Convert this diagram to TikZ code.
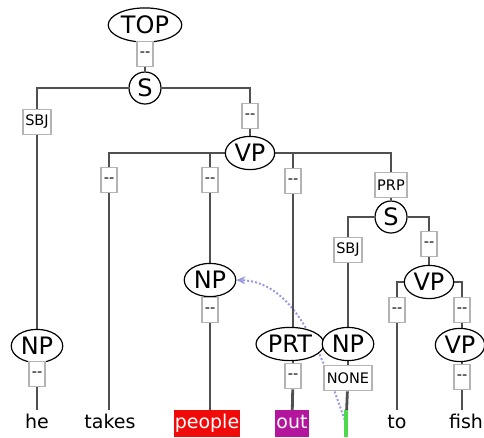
\documentclass[tikz,border=0pt]{standalone}
\usepackage{fontspec}
\setmainfont{DejaVu Sans}[Ligatures=TeXOff]
\usetikzlibrary{shapes.geometric,arrows.meta,backgrounds}
\definecolor{trait}{HTML}{505050}
\definecolor{cadre}{HTML}{B4B4B4}
\definecolor{lavande}{HTML}{9A9AE0}
\definecolor{rouge}{HTML}{F00A0A}
\definecolor{magenta}{HTML}{B3169C}
\definecolor{vert}{HTML}{4CD94C}
\begin{document}
\begin{tikzpicture}[
       x=1pt,y=-1pt,
       categorie/.style={
         ellipse,
         draw=black,
         line width=1.2pt,
         fill=white,
         font=\fontsize{24}{26}\selectfont,
         inner xsep=2pt,
         inner ysep=3pt
       },
       rond/.style={
         circle,
         draw=black,
         line width=1.2pt,
         fill=white,
         font=\fontsize{24}{26}\selectfont,
         inner sep=0pt,
         minimum size=32pt
       },
       etiquette/.style={
         rectangle,
         draw=cadre,
         line width=1.8pt,
         fill=white,
         font=\fontsize{14.5}{15}\selectfont,
         inner xsep=2.5pt,
         inner ysep=2pt,
         minimum width=15pt,
         minimum height=25pt
       },
       mot/.style={
         font=\fontsize{19}{20}\selectfont,
         inner xsep=1pt,
         text height=14pt,
         text depth=4.5pt,
         minimum height=27pt
       },
       arete/.style={draw=trait,line width=2.8pt},
       fleche/.style={draw=lavande,line width=2pt,dotted,-{Stealth[length=9pt,width=8pt]}}
     ]

       \useasboundingbox (0,0) rectangle (484,437);

       \node (c1) at (145,25) [categorie]{TOP};
       \node (f1) at (145,54) [etiquette]{--};
       \node (c2) at (145,88) [rond]{S};
       \node (f2) at (37,122) [etiquette]{SBJ};
       \node (c3) at (250,153) [categorie]{VP};
       \node (f3) at (250,116) [etiquette]{--};
       \node (c4) at (37,346) [categorie]{NP};
       \node (f4) at (37,374) [etiquette]{--};
       \node (f5) at (109,180) [etiquette]{--};
       \node (f6) at (210,180) [etiquette]{--};
       \node (c5) at (210,280) [categorie]{NP};
       \node (f7) at (210,310) [etiquette]{--};
       \node (f8) at (293,181) [etiquette]{--};
       \node (c6) at (290,344) [categorie]{PRT};
       \node (f9) at (293,376) [etiquette]{--};
       \node (f10) at (391,185) [etiquette]{PRP};
       \node (c7) at (391,217) [rond]{S};
       \node (f11) at (348,250) [etiquette]{SBJ};
       \node (c8) at (348,344) [categorie]{NP};
       \node (f12) at (348,378) [etiquette]{NONE};
       \node (f13) at (429,244) [etiquette]{--};
       \node (c9) at (429,282) [categorie]{VP};
       \node (f14) at (397,310) [etiquette]{--};
       \node (f15) at (462,310) [etiquette]{--};
       \node (c10) at (460,345) [categorie]{VP};
       \node (f16) at (462,377) [etiquette]{--};

       \node (m1) at (37,423.5) [mot]{he};
       \node (m2) at (110,423.5) [mot]{takes};
       \node (m3) at (207,423.5) [mot,fill=rouge,text=white]{people};
       \node (m4) at (292,423.5) [mot,fill=magenta,text=white]{out};
       \node (m5) at (346,423.5) [fill=vert,inner sep=0pt,minimum width=4pt,minimum height=27pt]{};
       \node (m6) at (397,423.5) [mot]{to};
       \node (m7) at (466,423.5) [mot]{fish};

       \begin{scope}[on background layer]
       \draw[fleche] (m5.center) .. controls (322,355) and (296,282) .. (c5.east);
       \draw[arete] (c1) -- (f1) -- (c2);
       \draw[arete] (c2) -| (f2);
       \draw[arete] (c2) -| (f3);
       \draw[arete] (f2) -- (c4);
       \draw[arete] (c4) -- (f4);
       \draw[arete] (f4) -- (m1);
       \draw[arete] (f3) -- (c3);
       \draw[arete] (c3) -| (f5);
       \draw[arete] (c3) -| (f6);
       \draw[arete] (c3) -| (f8);
       \draw[arete] (c3) -| (f10);
       \draw[arete] (f5) -- (f5 |- m2.north);
       \draw[arete] (f6) -- (c5);
       \draw[arete] (c5) -- (f7);
       \draw[arete] (f7) -- (f7 |- m3.north);
       \draw[arete] (f8) -- (f8 |- c6.north);
       \draw[arete] (f9) -- (f9 |- c6.south);
       \draw[arete] (f9) -- (m4);
       \draw[arete] (f10) -- (c7);
       \draw[arete] (c7) -| (f11);
       \draw[arete] (c7) -| (f13);
       \draw[arete] (f11) -- (c8);
       \draw[arete] (c8) -- (f12);
       \draw[arete] (f12) -- (m5);
       \draw[arete] (f13) -- (c9);
       \draw[arete] (c9) -| (f14);
       \draw[arete] (c9) -| (f15);
       \draw[arete] (f14) -- (m6);
       \draw[arete] (f15) -- (f15 |- c10.north);
       \draw[arete] (f16) -- (f16 |- c10.south);
       \draw[arete] (f16) -- (f16 |- m7.north);
       \end{scope}

\end{tikzpicture}
\end{document}
